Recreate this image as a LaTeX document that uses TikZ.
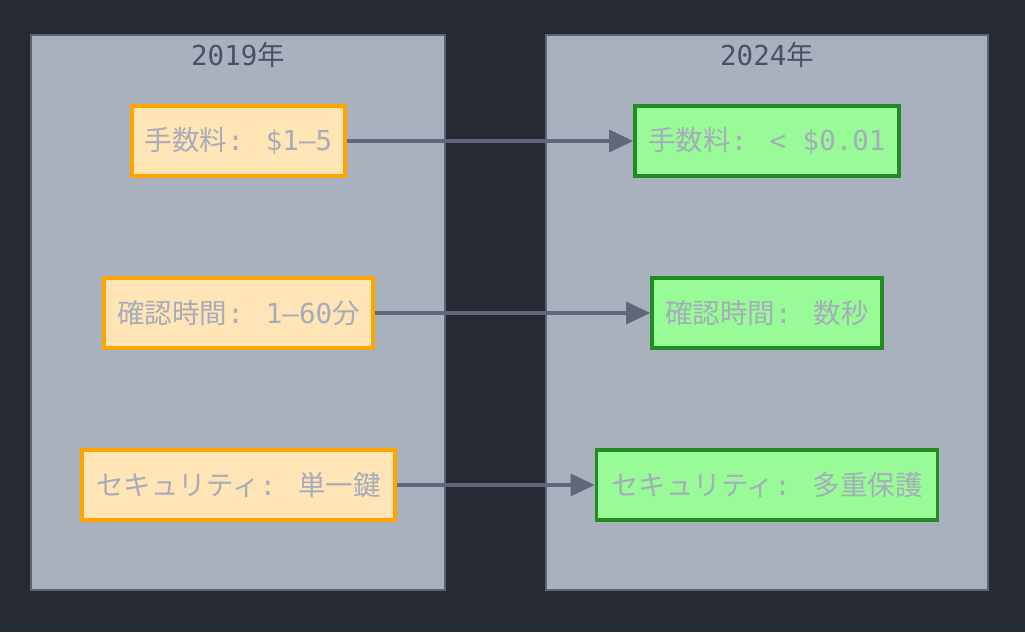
\documentclass[tikz,border=0pt]{standalone}
\usepackage{fontspec}
\setmainfont{DejaVu Sans Mono}
\newfontfamily\cjk{Noto Sans CJK JP}
\usetikzlibrary{arrows.meta}
\definecolor{bg}{HTML}{262A33}
\definecolor{panel}{HTML}{AAB1BE}
\definecolor{panelline}{HTML}{5C6372}
\definecolor{titletext}{HTML}{4A5162}
\definecolor{boxtext}{HTML}{A6ACBA}
\definecolor{oldfill}{HTML}{FFE4B5}
\definecolor{oldline}{HTML}{FFA500}
\definecolor{newfill}{HTML}{98FB98}
\definecolor{newline}{HTML}{228B22}
\definecolor{arrowc}{HTML}{5F6778}
\begin{document}
\begin{tikzpicture}[x=1pt,y=-1pt,
  panelbox/.style={draw=panelline,fill=panel,line width=1.5pt},
  paneltitle/.style={text=titletext,font=\fontsize{27.5}{32}\selectfont,anchor=center},
  oldbox/.style={draw=oldline,fill=oldfill,line width=3.6pt,minimum height=70pt,inner sep=0pt,text=boxtext,font=\fontsize{27.5}{32}\selectfont},
  newbox/.style={draw=newline,fill=newfill,line width=3.6pt,minimum height=70pt,inner sep=0pt,text=boxtext,font=\fontsize{27.5}{32}\selectfont},
  conn/.style={draw=arrowc,line width=3.2pt,-{Triangle[length=24pt,width=22pt]}}]
\fill[bg] (0,0) rectangle (1025,632);
\useasboundingbox (0,0) rectangle (1025,632);
\draw[panelbox] (31,35) rectangle (445,590);
\draw[panelbox] (546,35) rectangle (988,590);
\node[paneltitle] (t1) at (238,55) {2019{\cjk 年}};
\node[paneltitle] (t2) at (767,55) {2024{\cjk 年}};
\node[oldbox,minimum width=213pt] (a1) at (238.5,141) {{\cjk 手数料}: \$1–5};
\node[oldbox,minimum width=269pt] (a2) at (238.5,313) {{\cjk 確認時間}: 1–60{\cjk 分}};
\node[oldbox,minimum width=313pt] (a3) at (238.5,485) {{\cjk セキュリティ}: {\cjk 単一鍵}};
\node[newbox,minimum width=264pt] (b1) at (767,141) {{\cjk 手数料}: < \$0.01};
\node[newbox,minimum width=230pt] (b2) at (767,313) {{\cjk 確認時間}: {\cjk 数秒}};
\node[newbox,minimum width=341pt] (b3) at (767,485) {{\cjk セキュリティ}: {\cjk 多重保護}};
\draw[conn] (a1) -- (b1);
\draw[conn] (a2) -- (b2);
\draw[conn] (a3) -- (b3);
\end{tikzpicture}
\end{document}
